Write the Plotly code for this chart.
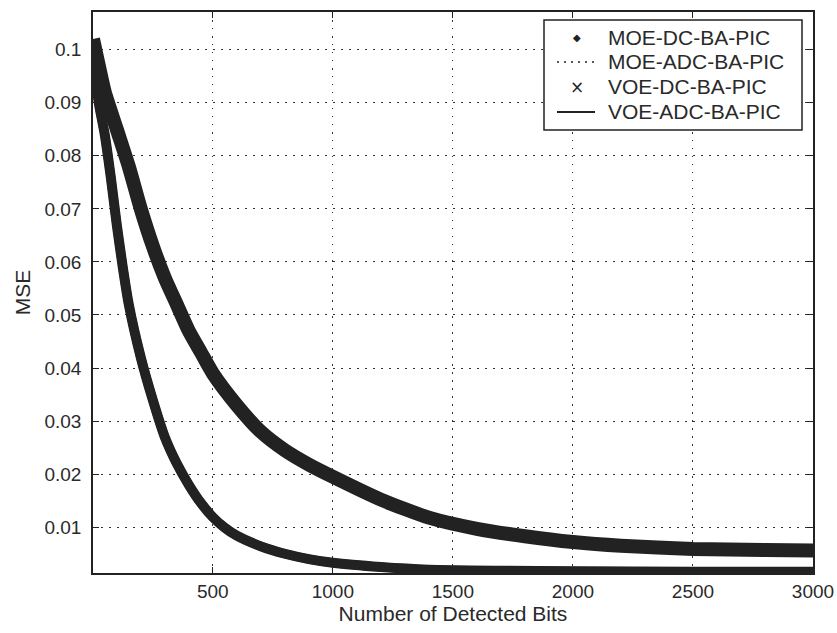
import plotly.graph_objects as go

# ---- data ----
bits_dc = [1, 25, 50, 100, 150, 200, 250, 300, 350, 400, 450, 500, 600, 700, 800,
           900, 1000, 1200, 1400, 1600, 1800, 2000, 2200, 2500, 2800, 3000]
moe_dc = [0.102, 0.097, 0.092, 0.085, 0.078, 0.070, 0.063, 0.057, 0.052, 0.047, 0.043,
          0.039, 0.033, 0.028, 0.0245, 0.0218, 0.0195, 0.0152, 0.0118, 0.0097, 0.0083,
          0.0072, 0.0065, 0.0059, 0.0057, 0.0056]
voe_dc = [0.101, 0.096, 0.092, 0.085, 0.078, 0.070, 0.063, 0.057, 0.052, 0.047, 0.043,
          0.039, 0.033, 0.028, 0.0245, 0.0218, 0.0195, 0.0152, 0.0118, 0.0097, 0.0083,
          0.0072, 0.0065, 0.0059, 0.0057, 0.0056]

bits_adc = [1, 25, 50, 75, 100, 125, 150, 200, 250, 300, 350, 400, 450, 500, 550, 600,
            700, 800, 900, 1000, 1200, 1400, 1700, 2000, 2500, 3000]
moe_adc = [0.099, 0.090, 0.084, 0.076, 0.067, 0.059, 0.052, 0.042, 0.034, 0.027, 0.022,
           0.018, 0.0146, 0.0119, 0.0099, 0.0084, 0.0064, 0.0050, 0.0040, 0.0033, 0.0025,
           0.0020, 0.0018, 0.0017, 0.0016, 0.0016]
voe_adc = [0.099, 0.090, 0.084, 0.076, 0.067, 0.059, 0.052, 0.042, 0.034, 0.027, 0.022,
           0.018, 0.0146, 0.0119, 0.0099, 0.0084, 0.0064, 0.0050, 0.0040, 0.0033, 0.0025,
           0.0020, 0.0018, 0.0017, 0.0016, 0.0016]

series_names = ["MOE-DC-BA-PIC", "MOE-ADC-BA-PIC", "VOE-DC-BA-PIC", "VOE-ADC-BA-PIC"]

x_ticks = [500, 1000, 1500, 2000, 2500, 3000]
y_ticks = [0.01, 0.02, 0.03, 0.04, 0.05, 0.06, 0.07, 0.08, 0.09, 0.1]
y_tick_text = ["0.01", "0.02", "0.03", "0.04", "0.05", "0.06", "0.07", "0.08", "0.09", "0.1"]

INK = "#222222"
TXT = "#2a2a2a"
FONT = "Arial, Liberation Sans, sans-serif"

W, H = 837, 633
ML, MR, MT, MB = 93, 24, 12, 60
PW, PH = W - ML - MR, H - MT - MB


def px_x(p):
    return (p - ML) / PW


def px_y(p):
    return (H - MB - p) / PH


fig = go.Figure()

# data bands
fig.add_trace(go.Scatter(x=bits_dc, y=moe_dc, mode="lines", name=series_names[0],
                         showlegend=False,
                         line=dict(color=INK, width=14, shape="spline", smoothing=0.6)))
fig.add_trace(go.Scatter(x=bits_adc, y=moe_adc, mode="lines", name=series_names[1],
                         showlegend=False,
                         line=dict(color=INK, width=10, shape="spline", smoothing=0.6)))
fig.add_trace(go.Scatter(x=bits_dc, y=voe_dc, mode="lines", name=series_names[2],
                         showlegend=False,
                         line=dict(color=INK, width=12, shape="spline", smoothing=0.6)))
fig.add_trace(go.Scatter(x=bits_adc, y=voe_adc, mode="lines", name=series_names[3],
                         showlegend=False,
                         line=dict(color=INK, width=9, shape="spline", smoothing=0.6)))

axis_common = dict(
    showline=True, linecolor=INK, linewidth=1.5, mirror="ticks",
    ticks="inside", ticklen=6, tickcolor=INK, tickwidth=1.2,
    showgrid=True, gridcolor="#333333", gridwidth=1.3, griddash="1.5px,6.5px",
    zeroline=False, tickfont=dict(family=FONT, size=19, color=TXT),
)

fig.update_xaxes(range=[1, 3000], tickvals=x_ticks,
                 title=dict(text="Number of Detected Bits",
                            font=dict(family=FONT, size=21, color=TXT), standoff=0),
                 ticklabelstandoff=0, **axis_common)
fig.update_yaxes(range=[0.00137, 0.1071], tickvals=y_ticks, ticktext=y_tick_text,
                 title=dict(text="MSE", font=dict(family=FONT, size=21, color=TXT),
                            standoff=8),
                 ticklabelstandoff=6, **axis_common)

# ---- custom MATLAB-style legend ----
box_l, box_r, box_t, box_b = 544, 802, 20, 130
row_y = [37, 62, 87, 112]
shapes = [dict(type="rect", xref="paper", yref="paper",
               x0=px_x(box_l), x1=px_x(box_r), y0=px_y(box_b), y1=px_y(box_t),
               line=dict(color=INK, width=1.5), fillcolor="white", layer="above")]
shapes.append(dict(type="line", xref="paper", yref="paper",
                   x0=px_x(557), x1=px_x(595), y0=px_y(row_y[1]), y1=px_y(row_y[1]),
                   line=dict(color=INK, width=1.5, dash="2px,5px"), layer="above"))
shapes.append(dict(type="line", xref="paper", yref="paper",
                   x0=px_x(557), x1=px_x(595), y0=px_y(row_y[3]), y1=px_y(row_y[3]),
                   line=dict(color=INK, width=1.8), layer="above"))

annotations = []
for name, ry in zip(series_names, row_y):
    annotations.append(dict(text=name, xref="paper", yref="paper",
                            x=px_x(606), y=px_y(ry), xanchor="left", yanchor="middle",
                            showarrow=False, font=dict(family=FONT, size=21, color=TXT)))
annotations.append(dict(text="◆", xref="paper", yref="paper",
                        x=px_x(577), y=px_y(row_y[0]), xanchor="center", yanchor="middle",
                        showarrow=False, font=dict(family="DejaVu Sans", size=10, color=INK)))
annotations.append(dict(text="×", xref="paper", yref="paper",
                        x=px_x(577), y=px_y(row_y[2]), xanchor="center", yanchor="middle",
                        showarrow=False, font=dict(family="DejaVu Sans", size=17, color=INK)))

fig.update_layout(
    width=W, height=H,
    margin=dict(l=ML, r=MR, t=MT, b=MB, autoexpand=False),
    paper_bgcolor="white", plot_bgcolor="white",
    showlegend=False,
    shapes=shapes, annotations=annotations,
)

fig.write_html("out.html")
